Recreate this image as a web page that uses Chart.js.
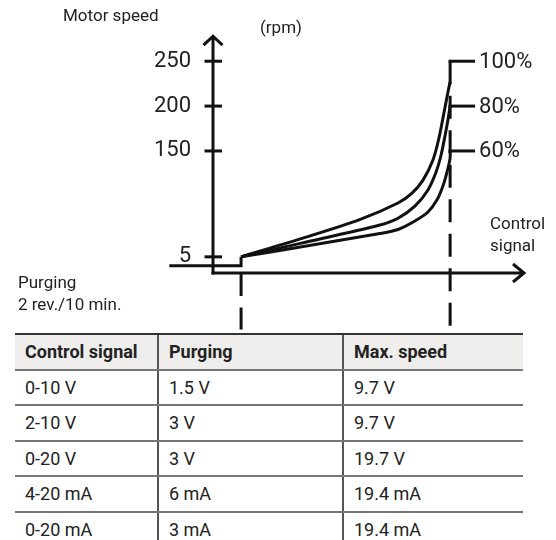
<!DOCTYPE html>
<html>
<head>
<meta charset="utf-8">
<title>Motor speed</title>
<script src="https://cdn.jsdelivr.net/npm/chart.js@4.4.1/dist/chart.umd.min.js"></script>
<style>
  body { margin: 0; background: #fff; font-family: Roboto, sans-serif; color: #222; }
  .page { position: relative; width: 556px; height: 540px; overflow: hidden; }
  #speed-chart { position: absolute; left: 0; top: 0; }
  table {
    position: absolute; left: 15px; top: 333px; width: 508px;
    border-collapse: collapse; table-layout: fixed; font-size: 18px;
  }
  tr { height: 35.5px; }
  th, td { text-align: left; vertical-align: middle; padding: 0 0 0 10px; white-space: nowrap; }
  th { background: #efeeec; font-weight: 700; border-top: 2px solid #333; border-bottom: 2px solid #777; }
  td { border-bottom: 2px solid #777; }
  th + th, td + td { border-left: 2px solid #555; }
</style>
</head>
<body>
<div class="page">
  <canvas id="speed-chart" width="556" height="333"></canvas>
  <table id="signal-table">
    <colgroup><col style="width:143px"><col style="width:185px"><col style="width:180px"></colgroup>
    <thead><tr id="table-head"></tr></thead>
    <tbody id="table-body"></tbody>
  </table>
</div>
<script>
// Y ticks (axis is broken: "5" sits just above the purging level)
const yTickValues = [32, 150, 200, 250];
const yTickLabels = ["5", "150", "200", "250"];

// Purging level, then step up to 5 rpm
const purgeSignal = [-14, 9, 9];
const purgeSpeed = [22, 22, 32];

// Speed curves for 100 %, 80 % and 60 %
const curveLabels = ["100%", "80%", "60%"];
const signal100 = [9, 28, 47, 59.3, 63.8, 67.3, 70.5, 72.4, 74, 75.3, 76];
const speed100 = [32, 52, 73.5, 92, 103, 117.5, 140, 164, 192, 215.5, 227];
const signal80 = [9, 28, 53.5, 59.3, 64.7, 68.9, 71.5, 73.1, 74.4, 75.3, 76];
const speed80 = [32, 47, 67.5, 75, 88.5, 106.5, 126.5, 145.5, 167.5, 184.5, 200];
const signal60 = [9, 28, 53.5, 59.3, 64.7, 68.9, 71.8, 73.7, 75, 76, 76];
const speed60 = [32, 43, 58, 62.5, 72, 82, 95.5, 111, 126.5, 142, 150];

// Purging / max speed markers and the label leaders
const purgeAt = 9;
const maxAt = 76;
const leaderEnd = 84;
const leaderLevels = [250, 200, 150];
const markerBottom = -49;

// Table
const tableHead = ["Control signal", "Purging", "Max. speed"];
const tableSignals = ["0-10 V", "2-10 V", "0-20 V", "4-20 mA", "0-20 mA"];
const tablePurging = ["1.5 V", "3 V", "3 V", "6 mA", "3 mA"];
const tableMaxSpeed = ["9.7 V", "9.7 V", "19.7 V", "19.4 mA", "19.4 mA"];

document.addEventListener("DOMContentLoaded", () => {
  const ink = "#111";
  const toPoints = (xs, ys) => xs.map((x, i) => ({ x, y: ys[i] }));

  const lineSet = (data, extra) => Object.assign({
    data,
    borderColor: ink,
    borderWidth: 3,
    pointRadius: 0,
    tension: 0,
    borderCapStyle: "butt",
    borderJoinStyle: "miter",
    clip: false
  }, extra || {});

  const datasets = [
    lineSet(toPoints(purgeSignal, purgeSpeed)),
    lineSet(toPoints(signal100, speed100), { tension: 0.3, borderJoinStyle: "round" }),
    lineSet(toPoints(signal80, speed80), { tension: 0.3, borderJoinStyle: "round" }),
    lineSet(toPoints(signal60, speed60), { tension: 0.3, borderJoinStyle: "round" }),
    lineSet([{ x: maxAt, y: leaderLevels[0] }, { x: maxAt, y: markerBottom }], { borderDash: [23, 11.5] }),
    lineSet([{ x: purgeAt, y: 14 }, { x: purgeAt, y: markerBottom }], { borderDash: [23, 11.5] })
  ];
  // leaders to the % labels
  leaderLevels.forEach(level => {
    datasets.push(lineSet([{ x: maxAt - 0.5, y: level }, { x: leaderEnd, y: level }]));
  });

  // Axes with arrows, crossing ticks and free texts
  const axisPlugin = {
    id: "axisArrows",
    afterDatasetsDraw(chart) {
      const { ctx, chartArea, scales } = chart;
      const x0 = scales.x.getPixelForValue(0);
      const top = chartArea.top;
      const bottom = chartArea.bottom;
      const right = chartArea.right;

      ctx.save();
      ctx.strokeStyle = ink;
      ctx.lineWidth = 3;
      ctx.lineJoin = "miter";

      ctx.beginPath();
      ctx.moveTo(x0, bottom + 1.5);
      ctx.lineTo(x0, top + 1);
      ctx.moveTo(x0 - 9.5, top + 10);
      ctx.lineTo(x0, top + 1);
      ctx.lineTo(x0 + 9.5, top + 10);
      ctx.stroke();

      ctx.beginPath();
      ctx.moveTo(x0 - 1.5, bottom);
      ctx.lineTo(right - 1, bottom);
      ctx.moveTo(right - 12, bottom - 9);
      ctx.lineTo(right - 1, bottom);
      ctx.lineTo(right - 12, bottom + 9);
      ctx.stroke();

      scales.y.ticks.forEach(t => {
        const py = scales.y.getPixelForValue(t.value);
        ctx.beginPath();
        ctx.moveTo(x0 - 8.5, py);
        ctx.lineTo(x0 + 9, py);
        ctx.stroke();
      });

      ctx.fillStyle = "#222";
      ctx.textBaseline = "middle";
      ctx.textAlign = "left";
      ctx.font = "22px Roboto";
      leaderLevels.forEach((level, i) => {
        ctx.fillText(curveLabels[i], scales.x.getPixelForValue(leaderEnd) + 4, scales.y.getPixelForValue(level) + 1);
      });

      ctx.font = "17px Roboto";
      ctx.fillText("Motor speed", 63, 17);
      ctx.fillText("(rpm)", 260, 29);
      ctx.fillText("Control", 490, 225);
      ctx.fillText("signal", 490, 247);
      ctx.fillText("Purging", 18, 284);
      ctx.fillText("2 rev./10 min.", 18, 306);
      ctx.restore();
    }
  };

  new Chart(document.getElementById("speed-chart"), {
    type: "line",
    data: { datasets },
    options: {
      responsive: false,
      animation: false,
      events: [],
      layout: { padding: { left: 0, top: 35, right: 31, bottom: 60 } },
      plugins: { legend: { display: false }, tooltip: { enabled: false } },
      scales: {
        x: { type: "linear", min: 0, max: 100, display: false },
        y: {
          type: "linear",
          min: 14,
          max: 279,
          position: "left",
          grid: { display: false, drawTicks: false },
          border: { display: false },
          afterBuildTicks: scale => {
            scale.ticks = yTickValues.map(v => ({ value: v }));
          },
          afterFit: scale => {
            scale.width = 213;
          },
          ticks: {
            padding: 22,
            color: "#222",
            font: { family: "Roboto", size: 22 },
            callback: value => yTickLabels[yTickValues.indexOf(value)]
          }
        }
      }
    },
    plugins: [axisPlugin]
  });

  // Table rows
  const head = document.getElementById("table-head");
  tableHead.forEach(text => {
    const th = document.createElement("th");
    th.textContent = text;
    head.appendChild(th);
  });
  const body = document.getElementById("table-body");
  tableSignals.forEach((signal, i) => {
    const tr = document.createElement("tr");
    [signal, tablePurging[i], tableMaxSpeed[i]].forEach(text => {
      const td = document.createElement("td");
      td.textContent = text;
      tr.appendChild(td);
    });
    body.appendChild(tr);
  });
});
</script>
</body>
</html>
